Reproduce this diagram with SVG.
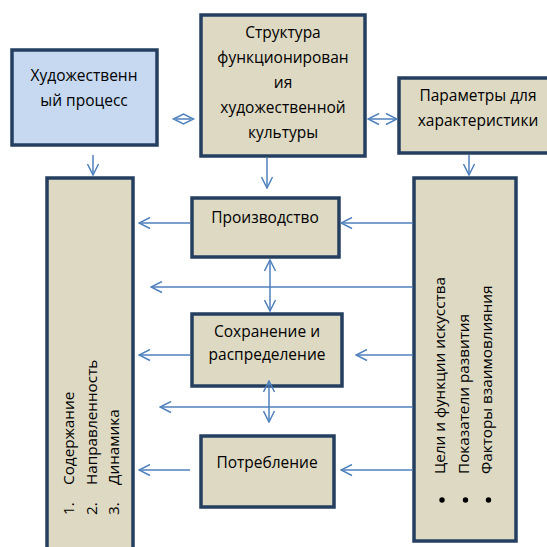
<svg xmlns="http://www.w3.org/2000/svg" width="547" height="547" viewBox="0 0 547 547">
<style>
.box{fill:#DDD9C3;stroke:#243F60;stroke-width:3.5}
.blue{fill:#C6D9F1;stroke:#243F60;stroke-width:3.5}
.t{font-family:"Open Sans","Liberation Sans",sans-serif;font-size:15.5px;fill:#000;text-anchor:middle}
.r{font-family:"Open Sans","Liberation Sans",sans-serif;font-size:15.3px;fill:#000}
.c{stroke:#4F81BD;stroke-width:1.5;fill:none}
</style>
<defs>
<marker id="a" markerUnits="userSpaceOnUse" markerWidth="13" markerHeight="13" viewBox="0 0 13 13" refX="12" refY="6.5" orient="auto-start-reverse">
<path d="M1,1 L12,6.5 L1,12" fill="none" stroke="#4F81BD" stroke-width="1.5"/>
</marker>
</defs>
<rect width="547" height="547" fill="#fff"/>
<g id="process">
<rect class="blue" x="12" y="50" width="145" height="95"/>
<text class="t" x="84" y="81">Художественн</text>
<text class="t" x="84" y="106">ый процесс</text>
</g>
<g id="structure">
<rect class="box" x="201" y="15" width="164" height="141"/>
<text class="t" x="283" y="38">Структура</text>
<text class="t" x="283" y="63">функционирован</text>
<text class="t" x="283" y="88">ия</text>
<text class="t" x="283" y="113">художественной</text>
<text class="t" x="283" y="138">культуры</text>
</g>
<g id="params">
<rect class="box" x="399" y="78" width="160" height="75"/>
<text class="t" x="478" y="101">Параметры для</text>
<text class="t" x="478" y="126">характеристики</text>
</g>
<g id="left-list">
<rect class="box" x="47" y="178" width="86" height="400"/>
<text class="r" transform="translate(74,515) rotate(-90)">1.</text>
<text class="r" transform="translate(74,485) rotate(-90)">Содержание</text>
<text class="r" transform="translate(97,515) rotate(-90)">2.</text>
<text class="r" transform="translate(97,485) rotate(-90)">Направленность</text>
<text class="r" transform="translate(119,515) rotate(-90)">3.</text>
<text class="r" transform="translate(119,485) rotate(-90)">Динамика</text>
</g>
<g id="right-list">
<rect class="box" x="414" y="178" width="102" height="363"/>
<text class="r" transform="translate(445,474) rotate(-90)">Цели и функции искусства</text>
<text class="r" transform="translate(469,474) rotate(-90)">Показатели развития</text>
<text class="r" transform="translate(492,474) rotate(-90)">Факторы взаимовлияния</text>
<circle cx="442" cy="500" r="2.7" fill="#000"/>
<circle cx="465.5" cy="500" r="2.7" fill="#000"/>
<circle cx="488.5" cy="500" r="2.7" fill="#000"/>
</g>
<g id="production">
<rect class="box" x="192" y="198" width="147" height="59"/>
<text class="t" x="265" y="223">Производство</text>
</g>
<g id="storage">
<rect class="box" x="192" y="314" width="150" height="72"/>
<text class="t" x="267" y="337">Сохранение и</text>
<text class="t" x="267" y="360">распределение</text>
</g>
<g id="consumption">
<rect class="box" x="201" y="436" width="133" height="71"/>
<text class="t" x="267" y="468">Потребление</text>
</g>
<g id="connectors">
<polygon points="173.5,119 183.5,114 193.5,119 183.5,124" fill="#fff" stroke="#4F81BD" stroke-width="1.5"/>
<line class="c" x1="176" y1="119" x2="191" y2="119"/>
<line class="c" x1="368" y1="119" x2="397" y2="119" marker-start="url(#a)" marker-end="url(#a)"/>
<line class="c" x1="93" y1="155" x2="93" y2="175" marker-end="url(#a)"/>
<line class="c" x1="267" y1="158" x2="267" y2="188" marker-end="url(#a)"/>
<line class="c" x1="469" y1="155" x2="469" y2="175" marker-end="url(#a)"/>
<line class="c" x1="190" y1="223" x2="139" y2="223" marker-end="url(#a)"/>
<line class="c" x1="413" y1="223" x2="341" y2="223" marker-end="url(#a)"/>
<line class="c" x1="413" y1="287" x2="151" y2="287" marker-end="url(#a)"/>
<line class="c" x1="270" y1="260" x2="270" y2="311" marker-start="url(#a)" marker-end="url(#a)"/>
<line class="c" x1="190" y1="355" x2="139" y2="355" marker-end="url(#a)"/>
<line class="c" x1="413" y1="355" x2="356" y2="355" marker-end="url(#a)"/>
<line class="c" x1="413" y1="407" x2="160" y2="407" marker-end="url(#a)"/>
<line class="c" x1="269" y1="381" x2="269" y2="422" marker-start="url(#a)" marker-end="url(#a)"/>
<line class="c" x1="190" y1="470" x2="139" y2="470" marker-end="url(#a)"/>
<line class="c" x1="413" y1="470" x2="341" y2="470" marker-end="url(#a)"/>
</g>
</svg>
